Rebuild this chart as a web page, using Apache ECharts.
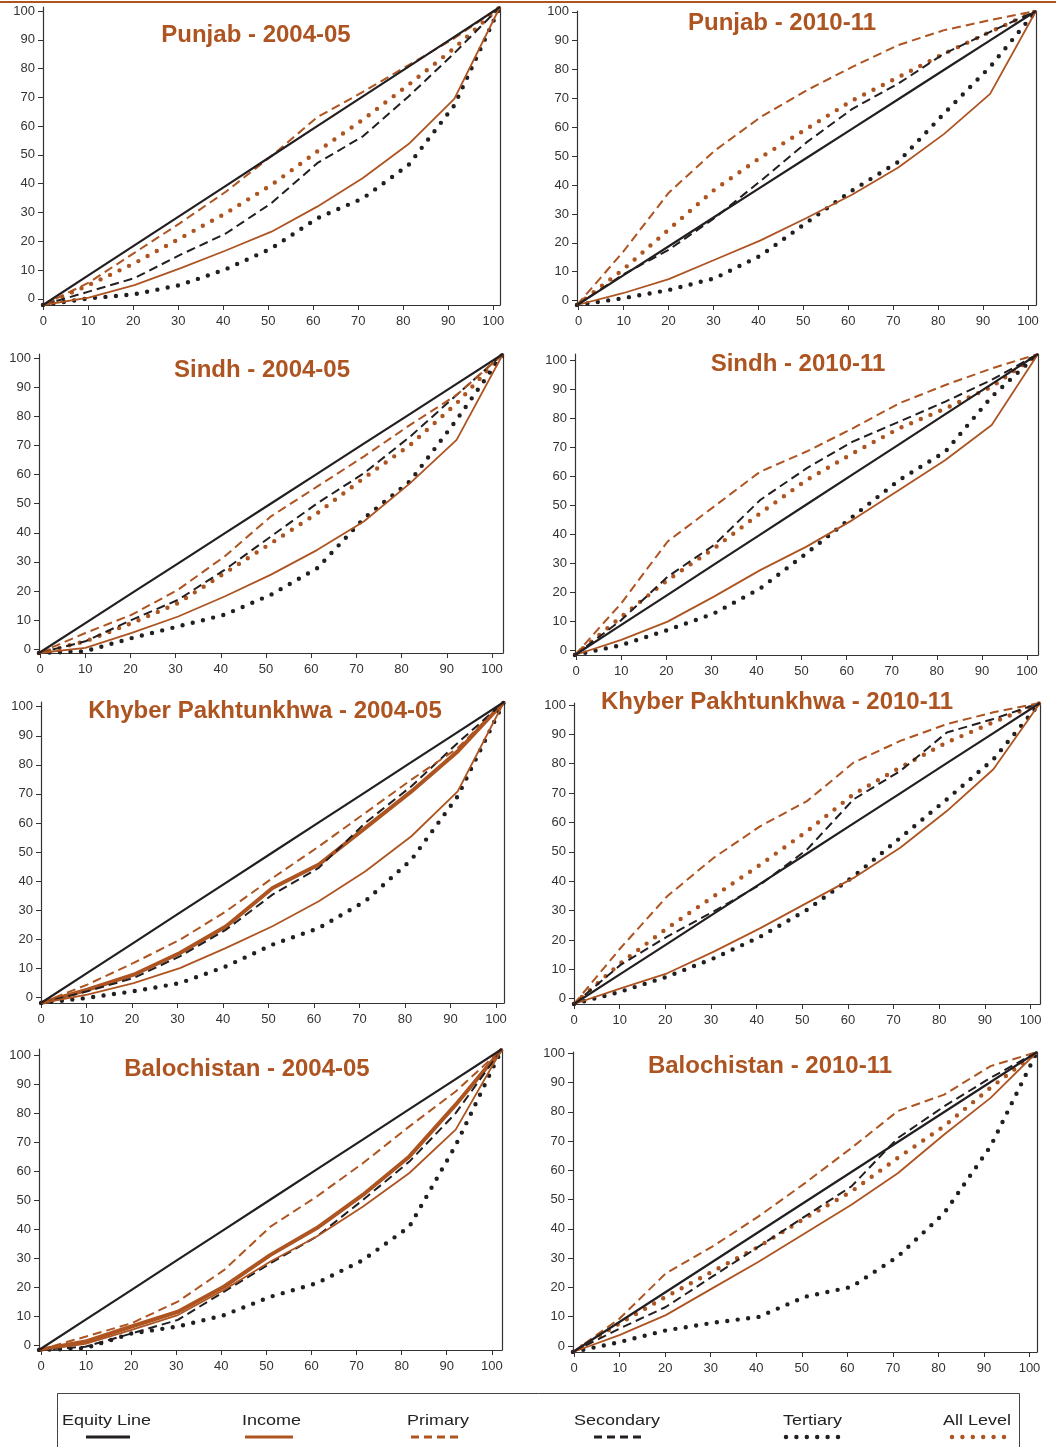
<!DOCTYPE html>
<html><head><meta charset="utf-8">
<script src="https://cdn.jsdelivr.net/npm/echarts@6/dist/echarts.min.js"></script>
<style>html,body{margin:0;padding:0;background:#fff}#c{width:1056px;height:1447px}</style>
</head><body><div id="c"></div>
<script>
// ---------- DATA ----------
const xs = [0,10,20,30,40,50,60,70,80,90,100];
const tickLabels = [0,10,20,30,40,50,60,70,80,90,100];
const seriesNames = ['Equity Line','Income','Primary','Secondary','Tertiary','All Level'];
const panelTitles = ['Punjab - 2004-05','Punjab - 2010-11','Sindh - 2004-05','Sindh - 2010-11',
  'Khyber Pakhtunkhwa - 2004-05','Khyber Pakhtunkhwa - 2010-11','Balochistan - 2004-05','Balochistan - 2010-11'];

const equity = [0,10,20,30,40,50,60,70,80,90,100];

const punjab05Income    = [0,2.5,6.7,12.3,18.3,24.6,33,42.6,54,69.2,100];
const punjab05Primary   = [0,7.5,17.5,27.5,38,50,63,71.5,80.5,89.5,100];
const punjab05Secondary = [0,4.5,9,16.8,24,34.2,47.6,56.6,70,84.5,100];
const punjab05Tertiary  = [0,2.2,3.6,6.7,12,19,29.1,35.8,47,67,100];
const punjab05All       = [0,6.7,14,22.4,30.8,40.3,51.5,62.2,73.9,86.2,100];

const punjab11Income    = [0,4,8.8,15.4,22,29.6,37.6,46.8,58.2,71.8,100];
const punjab11Primary   = [0,18,38.2,52.5,63.9,73,81,88.4,93.5,96.9,100];
const punjab11Secondary = [0,10.3,18.8,29.6,42.2,55.3,66.7,75.3,85.5,92.9,100];
const punjab11Tertiary  = [0,2.3,5.1,9.1,16.8,28,39,48.7,65.2,81,100];
const punjab11All       = [0,12,25.7,39.3,50.2,59.9,69.6,77.5,85.5,92.9,100];

const sindh05Income    = [0,1.7,6.7,12.2,18.9,26.2,34.5,44,56.8,71.3,100];
const sindh05Primary   = [0,6.7,12.8,21.2,32.3,45.7,55.7,65.7,76.3,86.3,100];
const sindh05Secondary = [0,3.9,11.1,17.8,27.8,39,50.1,60.1,72.4,86.3,100];
const sindh05Tertiary  = [0,0.6,5,8.9,12.8,19.5,28.4,45,57.5,78,100];
const sindh05All       = [0,3.9,10,16.7,26.7,36.7,46.8,58.5,69.6,83.5,100];

const sindh11Income    = [0,5,11.1,19.4,28.2,36,44.9,54.8,64.8,76.4,100];
const sindh11Primary   = [0,17.2,37.7,49.3,60.9,67.6,75.3,83.6,89.7,95.2,100];
const sindh11Secondary = [0,11.6,26,36.5,51.5,62,70.9,77.5,84.2,91.4,100];
const sindh11Tertiary  = [0,3.3,8.3,13.8,22.1,33.8,46,58.1,67.6,85.8,100];
const sindh11All       = [0,12.7,24.9,35.4,47.1,58.1,67,75.3,81.9,89.1,100];

const kp05Income    = [0,2.8,6.6,11.6,18.3,25.5,33.8,43.7,55.4,70.3,100];
const kp05Primary   = [0,6.1,13.3,21,30.5,41.5,52,63.1,74.2,84.7,100];
const kp05Secondary = [0,3.9,8.3,15.5,24.4,36,44.9,59.8,72,86.4,100];
const kp05Tertiary  = [0,1.7,3.9,6.6,12.2,19.4,24.9,33.8,47.6,68.7,100];
const kp05All       = [0,4.4,9.4,16.6,25.5,38.2,46,58.1,70.3,83.6,100];

const kp11Income    = [0,5.2,10.2,17.4,25.2,33.6,41.9,51.9,64.1,78,100];
const kp11Primary   = [0,18.6,35.8,48.6,59.1,67.4,80.2,87.4,93,96.9,100];
const kp11Secondary = [0,13,22.4,30.8,39.7,51.3,68,77.4,90.2,94.7,100];
const kp11Tertiary  = [0,4.1,9.1,15.2,22.4,31.3,42.4,55.2,68,81.3,100];
const kp11All       = [0,13.6,25.2,35.8,46.3,57.4,69.7,78.6,86.9,93.6,100];

const bal05Income    = [0,2,6.7,11.6,20,29.4,37.7,47.7,58.8,73.2,100];
const bal05Primary   = [0,4.4,8.9,16.1,26.6,41,51,62.1,74.3,85.9,100];
const bal05Secondary = [0,1.1,5.5,10,19.4,28.8,37.7,49.9,62.6,78.7,100];
const bal05Tertiary  = [0,0.6,5.5,7.8,11.6,17.7,22.2,29.9,41,68,100];
const bal05All       = [0,2.8,7.8,12.7,21.1,31.6,40.5,51.6,64.3,81.5,100];

const bal11Income    = [0,5.6,12.3,21.2,30.1,39.6,49.1,59.6,72.5,84.7,100];
const bal11Primary   = [0,11.1,26.2,35.1,45.2,56.3,68,80.3,85.8,95.3,100];
const bal11Secondary = [0,7.8,15,25.1,35.1,45.2,55.2,71.3,81.9,91.4,100];
const bal11Tertiary  = [0,3.3,7.2,9.7,11.7,18.4,21.7,31.8,46.3,68.6,100];
const bal11All       = [0,9.5,18.4,26.8,35.1,44.6,53.5,64.7,75.3,88.1,100];

const panelSeries = [
  [equity, punjab05Income, punjab05Primary, punjab05Secondary, punjab05Tertiary, punjab05All],
  [equity, punjab11Income, punjab11Primary, punjab11Secondary, punjab11Tertiary, punjab11All],
  [equity, sindh05Income, sindh05Primary, sindh05Secondary, sindh05Tertiary, sindh05All],
  [equity, sindh11Income, sindh11Primary, sindh11Secondary, sindh11Tertiary, sindh11All],
  [equity, kp05Income, kp05Primary, kp05Secondary, kp05Tertiary, kp05All],
  [equity, kp11Income, kp11Primary, kp11Secondary, kp11Tertiary, kp11All],
  [equity, bal05Income, bal05Primary, bal05Secondary, bal05Tertiary, bal05All],
  [equity, bal11Income, bal11Primary, bal11Secondary, bal11Tertiary, bal11All]
];

// ---------- LAYOUT ----------
// L,R,T,B: plot box (data 0..100); X0,X100,Y0,Y100: where tick labels 0 / 100 sit
const geo = [
  {L:43,  R:500,  T:7,    B:305,  X0:43.3, X100:493.3, Y0:298.8, Y100:11},
  {L:577, R:1036, T:11,   B:305,  X0:578.7,X100:1028,  Y0:300.6, Y100:11.5},
  {L:39,  R:503,  T:354,  B:653,  X0:40,   X100:492,   Y0:649.1, Y100:358.3},
  {L:575, R:1038, T:354,  B:655,  X0:576.2,X100:1027,  Y0:650.7, Y100:360.7},
  {L:41,  R:504,  T:702,  B:1003, X0:40.5, X100:496,   Y0:997.4, Y100:706.7},
  {L:574, R:1040, T:703,  B:1004, X0:573,  X100:1030.5,Y0:998.7, Y100:705},
  {L:39,  R:502,  T:1049, B:1350, X0:41,   X100:491.8, Y0:1345,  Y100:1055},
  {L:573, R:1037, T:1052, B:1352, X0:574.1,X100:1029.5,Y0:1346,  Y100:1053.3}
];
const titlePos = [[256,35],[782,23],[262,370],[798,364],[265,711],[777,702],[247,1069],[770,1066]];
const thickAll = [false,false,false,false,true,false,true,false];

const BLACK = '#231F20', BROWN = '#AD5421', AXIS = '#333';
const FONT = '"Liberation Sans", Arial, sans-serif';

function styleFor(k, p) {
  switch (k) {
    case 0: return {color: BLACK, width: 2.2, type: 'solid'};
    case 1: return {color: BROWN, width: 1.8, type: 'solid'};
    case 2: return {color: BROWN, width: 2, type: [9,5]};
    case 3: return {color: BLACK, width: 2, type: [9,5]};
    case 4: return {color: BLACK, width: 4.4, type: [0,10.5], cap: 'round'};
    case 5: return thickAll[p] ? {color: BROWN, width: 4, type: 'solid'}
                               : {color: BROWN, width: 4.4, type: [0,10.5], cap: 'round'};
  }
}

const grid = [], xAxis = [], yAxis = [], series = [];
geo.forEach((g, p) => {
  grid.push({left: g.L, top: g.T, width: g.R - g.L, height: g.B - g.T, outerBoundsMode: 'none'});
  const ux = 100 / (g.X100 - g.X0), uy = 100 / (g.Y0 - g.Y100);
  const xmin = -(g.X0 - g.L) * ux, xmax = 100 + (g.R - g.X100) * ux;
  const ymin = -(g.B - g.Y0) * uy, ymax = Math.max(100.3, 100 + (g.Y100 - g.T) * uy);
  xAxis.push({gridIndex: p, type: 'value', min: 0, max: 100, show: false});
  xAxis.push({gridIndex: p, type: 'value', min: Math.min(xmin, -0.01), max: xmax, position: 'bottom',
    axisLine: {show: true, onZero: false, lineStyle: {color: AXIS, width: 1.2}},
    axisTick: {show: true, customValues: tickLabels, length: 5, lineStyle: {color: AXIS}},
    axisLabel: {customValues: tickLabels, margin: 10, color: AXIS, fontSize: 13, fontFamily: FONT},
    splitLine: {show: false}});
  yAxis.push({gridIndex: p, type: 'value', min: 0, max: 100, show: false});
  yAxis.push({gridIndex: p, type: 'value', min: ymin, max: ymax, position: 'left',
    axisLine: {show: true, onZero: false, lineStyle: {color: AXIS, width: 1.2}},
    axisTick: {show: true, customValues: tickLabels, length: 5, lineStyle: {color: AXIS}},
    axisLabel: {customValues: tickLabels, margin: 8, color: AXIS, fontSize: 13, fontFamily: FONT},
    splitLine: {show: false}});
  yAxis.push({gridIndex: p, type: 'value', min: 0, max: 100, position: 'right',
    axisLine: {show: true, onZero: false, lineStyle: {color: AXIS, width: 1.2}},
    axisTick: {show: false}, axisLabel: {show: false}, splitLine: {show: false}});
  panelSeries[p].forEach((vals, k) => {
    series.push({
      name: seriesNames[k], type: 'line', xAxisIndex: 2 * p, yAxisIndex: 3 * p,
      data: xs.map((x, i) => [x, vals[i]]), showSymbol: false, symbol: 'none',
      lineStyle: styleFor(k, p), z: 10 - k, silent: true
    });
  });
});

const graphic = [];
graphic.push({type: 'line', shape: {x1: 0, y1: 2, x2: 1056, y2: 2}, style: {stroke: BROWN, lineWidth: 2}});
panelTitles.forEach((t, p) => {
  graphic.push({type: 'text', x: titlePos[p][0], y: titlePos[p][1],
    style: {text: t, fill: BROWN, font: 'bold 24px ' + FONT, textAlign: 'center', textVerticalAlign: 'middle'}});
});
// legend box
graphic.push({type: 'rect', shape: {x: 57.5, y: 1393.5, width: 962, height: 70},
  style: {fill: 'none', stroke: '#444', lineWidth: 1}});
const legX = [62, 242, 407, 574, 783, 943];
const legLine = [[86,130],[245,293],[411,460],[594,642],[786,838],[952,1004]];
seriesNames.forEach((n, k) => {
  graphic.push({type: 'text', x: legX[k], y: 1421, scaleX: 1.2,
    style: {text: n, fill: '#222', font: '15px ' + FONT, textAlign: 'left', textVerticalAlign: 'middle'}});
  const st = styleFor(k, 0);
  const style = {stroke: st.color, lineWidth: 3};
  if (k === 2 || k === 3) { style.lineDash = [8, 5]; }
  if (k === 4 || k === 5) { style.lineDash = [0, 10.4]; style.lineCap = 'round'; style.lineWidth = 4.5; }
  graphic.push({type: 'line', shape: {x1: legLine[k][0], y1: 1437, x2: legLine[k][1], y2: 1437}, style});
});

const chart = echarts.init(document.getElementById('c'), null, {renderer: 'canvas'});
chart.setOption({animation: false, backgroundColor: '#fff', grid, xAxis, yAxis, series, graphic});
</script></body></html>
